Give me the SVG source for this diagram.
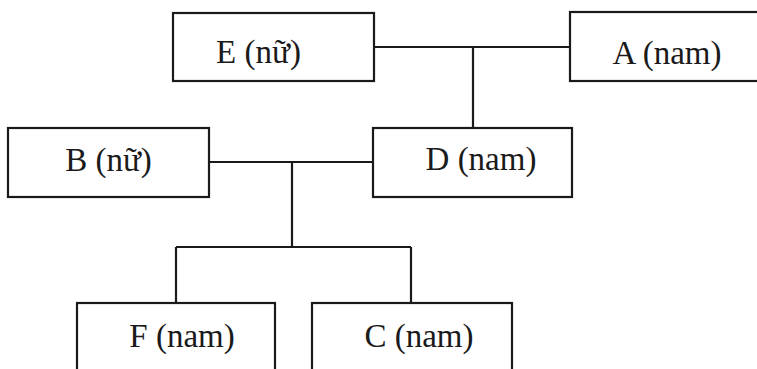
<svg xmlns="http://www.w3.org/2000/svg" width="757" height="369" viewBox="0 0 757 369">
<style>
.box{fill:#fff;stroke:#1a1a1a;stroke-width:2.2}
.lbl{font-family:"Liberation Serif","Times New Roman",serif;font-size:33px;fill:#1a1a1a;text-anchor:middle}
.ln{fill:none;stroke:#1a1a1a;stroke-width:2.2}
</style>
<rect width="757" height="369" fill="#fff"/>
<g id="connectors">
<path class="ln" d="M374 47 H570 M473 47 V128"/>
<path class="ln" d="M209 162 H373 M292 162 V247 M176 247 H411 M176 247 V303 M411 247 V303"/>
</g>
<g id="node-E"><rect class="box" x="173" y="13" width="201" height="68"/><text class="lbl" x="258.5" y="63">E (nữ)</text></g>
<g id="node-A"><rect class="box" x="570" y="12" width="190" height="69"/><text class="lbl" x="667" y="64">A (nam)</text></g>
<g id="node-B"><rect class="box" x="8" y="128" width="201" height="69"/><text class="lbl" x="108.5" y="171">B (nữ)</text></g>
<g id="node-D"><rect class="box" x="373" y="128" width="199" height="69"/><text class="lbl" x="481" y="170">D (nam)</text></g>
<g id="node-F"><rect class="box" x="77" y="303" width="198" height="80"/><text class="lbl" x="182" y="347">F (nam)</text></g>
<g id="node-C"><rect class="box" x="312" y="303" width="200" height="80"/><text class="lbl" x="419" y="347">C (nam)</text></g>
</svg>
